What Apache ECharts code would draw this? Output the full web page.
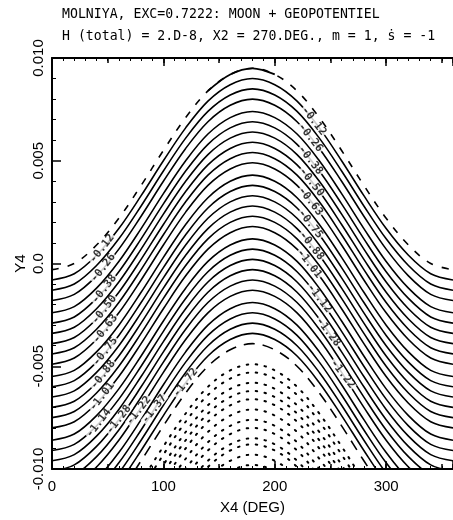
<!DOCTYPE html>
<html>
<head>
<meta charset="utf-8">
<script src="https://cdn.jsdelivr.net/npm/echarts@6/dist/echarts.min.js"></script>
<style>
html,body{margin:0;padding:0;background:#fff;}
#chart{width:453px;height:520px;}
</style>
</head>
<body>
<div id="chart"></div>
<script>
// X4 sample positions (deg) and the contour profile (drop below the crest, in Y4 units)
const xs = [0,20,40,60,80,100,120,140,160,180,200,220,240,260,280,300,320,340,360];
const profile = [0.0098,0.0095,0.0086,0.0073,0.0057,0.0040,0.0024,0.0011,0.0003,0,0.0003,0.0011,0.0024,0.0040,0.0057,0.0073,0.0086,0.0095,0.0098];

// crest heights (Y4 at X4 = 180) of each contour
const topPeak = 0.0095;                       // outermost contour (dashed on flanks)
const topSolidX = [140,160,180,200];          // part of it drawn solid
const solidPeaks = [0.0090,0.0085,0.0080,0.0074,0.0069,0.0064,0.0059,0.0054,0.0049,0.0043,0.0038,0.0033,0.0028,0.0023,0.0018,0.0012,0.0007,0.0002,-0.0003,-0.0008,-0.0013,-0.0019,-0.0024,-0.0029,-0.0034];
const zeroPeak = -0.0039;                     // dashed contour
const dottedPeaks = [-0.0049,-0.0053,-0.0058,-0.0062,-0.0066,-0.0071,-0.0076,-0.0080,-0.0085,-0.0088,-0.0093,-0.0098];

// contour labels
const leftLabels = ["-0.12","-0.26","-0.38","-0.50","-0.63","-0.75","-0.88","-1.01","-1.14","-1.28","-1.22","-1.37","-1.72"];
const leftLevels = [0,2,4,6,8,10,12,14,16,18,20,22,24];
const leftX = [45,46,47,47,48,48,46,45,42,60,78,92,120];
const rightLabels = ["-0.12","-0.26","-0.38","-0.50","-0.63","-0.75","-0.88","-1.01","-1.12","-1.28","-1.22"];
const rightLevels = [0,2,4,6,8,10,12,14,16,18,20];
const rightX = [235,232,232,233,232,232,233,231,240,248,261];

function curve(peak){ return xs.map((x,i)=>[x, peak - profile[i]]); }
function yAt(peak, x){
  const i = Math.min(Math.floor(x/20), xs.length-2);
  const t = (x - xs[i]) / 20;
  return peak - (profile[i]*(1-t) + profile[i+1]*t);
}

const series = [];
const base = {type:'line', smooth:0.35, symbol:'none', clip:true, silent:true, animation:false};
series.push(Object.assign({}, base, {data: curve(topPeak), lineStyle:{color:'#000', width:1.6, type:[7,9]}}));
series.push(Object.assign({}, base, {data: xs.map((x,i)=>topSolidX.indexOf(x)>=0 ? [x, topPeak-profile[i]] : null).filter(d=>d), lineStyle:{color:'#000', width:1.8}}));
solidPeaks.forEach(p=>{
  series.push(Object.assign({}, base, {data: curve(p), lineStyle:{color:'#000', width:1.6}}));
});
series.push(Object.assign({}, base, {data: curve(zeroPeak), lineStyle:{color:'#000', width:1.6, type:[11,8]}}));
dottedPeaks.forEach(p=>{
  series.push(Object.assign({}, base, {data: curve(p), lineStyle:{color:'#000', width:2, type:[1.5,7.5], cap:'round'}}));
});

const labelData = [];
leftLabels.forEach((t,i)=>{
  const x = leftX[i];
  labelData.push({name:t, value:[x, yAt(solidPeaks[leftLevels[i]], x)], label:{rotate:52}});
});
rightLabels.forEach((t,i)=>{
  const x = rightX[i];
  labelData.push({name:t, value:[x, yAt(solidPeaks[rightLevels[i]], x)], label:{rotate:-52}});
});
series.push({
  type:'scatter', symbolSize:0, silent:true, animation:false, z:10, data:labelData,
  label:{show:true, position:'inside', formatter:p=>p.name, color:'#000',
    fontFamily:'DejaVu Sans Mono', fontSize:11, lineHeight:8, fontWeight:'bold',
    backgroundColor:'#fff', padding:[0,1]}
});

const tickStyle = {color:'#000', width:1.5};
const axisFont = {color:'#000', fontFamily:'Liberation Sans', fontSize:15};
const chart = echarts.init(document.getElementById('chart'), null, {renderer:'canvas'});
chart.setOption({
  backgroundColor:'#fff',
  animation:false,
  title:[
    {text:'MOLNIYA, EXC=0.7222: MOON + GEOPOTENTIEL', left:62, top:8, padding:0,
     textStyle:{fontFamily:'DejaVu Sans Mono', fontSize:13.2, fontWeight:'normal', color:'#000'}},
    {text:'H (total) = 2.D-8, X2 = 270.DEG., m = 1, \u1E61 = -1', left:62, top:30, padding:0,
     textStyle:{fontFamily:'DejaVu Sans Mono', fontSize:13.2, fontWeight:'normal', color:'#000'}}
  ],
  grid:{left:52, top:58, width:406, height:414},
  xAxis:[
    {type:'value', position:'bottom', min:0, max:360, interval:100,
     axisLine:{show:true, onZero:false, lineStyle:{color:'#000', width:2}},
     axisTick:{show:true, inside:true, length:8, lineStyle:tickStyle},
     minorTick:{show:true, splitNumber:10, length:3, lineStyle:{color:'#000', width:1}},
     axisLabel:Object.assign({margin:10, showMaxLabel:false}, axisFont),
     splitLine:{show:false},
     name:'X4 (DEG)', nameLocation:'middle', nameGap:31, nameMoveOverlap:false, nameTextStyle:axisFont},
    {type:'value', position:'bottom', min:0, max:360, interval:50,
     axisLine:{show:false, onZero:false}, axisTick:{show:true, inside:true, length:5, lineStyle:tickStyle},
     axisLabel:{show:false}, splitLine:{show:false}},
    {type:'value', position:'top', min:0, max:360, interval:100,
     axisLine:{show:true, onZero:false, lineStyle:{color:'#000', width:2}},
     axisTick:{show:true, inside:true, length:8, lineStyle:tickStyle},
     minorTick:{show:true, splitNumber:10, length:3, lineStyle:{color:'#000', width:1}},
     axisLabel:{show:false}, splitLine:{show:false}},
    {type:'value', position:'top', min:0, max:360, interval:50,
     axisLine:{show:false, onZero:false}, axisTick:{show:true, inside:true, length:5, lineStyle:tickStyle},
     axisLabel:{show:false}, splitLine:{show:false}}
  ],
  yAxis:[
    {type:'value', position:'left', min:-0.01, max:0.01, interval:0.005,
     axisLine:{show:true, onZero:false, lineStyle:{color:'#000', width:2}},
     axisTick:{show:true, inside:true, length:9, lineStyle:tickStyle},
     minorTick:{show:true, splitNumber:5, length:4, lineStyle:{color:'#000', width:1}},
     axisLabel:Object.assign({rotate:90, margin:6, formatter:v=>{
        const r = Math.round(v*1000); return r===0 ? '0.0' : (r/1000).toFixed(3);}}, axisFont),
     splitLine:{show:false},
     name:'Y4', nameLocation:'middle', nameGap:24, nameMoveOverlap:false, nameRotate:90, nameTextStyle:axisFont}
  ],
  series:series
});
</script>
</body>
</html>
